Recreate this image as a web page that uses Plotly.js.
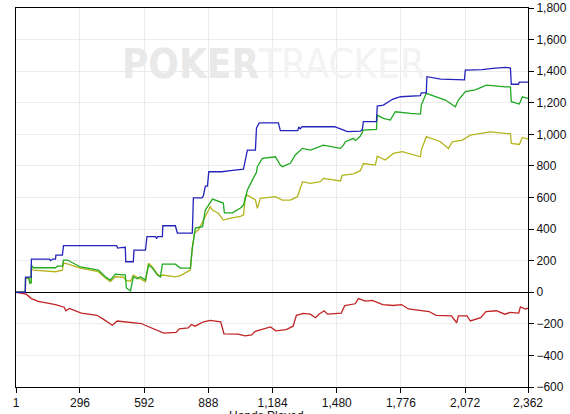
<!DOCTYPE html>
<html>
<head>
<meta charset="utf-8">
<script src="https://cdn.plot.ly/plotly-3.0.1.min.js"></script>
<style>
  html, body { margin: 0; padding: 0; background: #ffffff; }
  #chart { width: 570px; height: 414px; }
</style>
</head>
<body>
<div id="chart"></div>
<script>
// Hands played (x) and cumulative amounts (y)
const blueHands = [1,44,45,71,72,155,160,170,183,185,215,220,465,470,485,496,505,507,542,545,598,605,644,650,653,676,678,736,745,814,819,859,865,874,884,890,950,990,1036,1050,1068,1105,1110,1123,1211,1220,1300,1305,1312,1320,1368,1470,1497,1520,1529,1590,1598,1603,1663,1667,1695,1737,1774,1866,1870,1893,1896,1960,2060,2069,2073,2150,2200,2258,2281,2285,2318,2322,2362];
const blueValues = [0,0,96,96,210,210,200,210,210,235,235,295,295,280,282,285,285,193,193,267,267,352,352,340,352,352,421,421,375,375,597,597,610,672,672,763,763,770,775,780,900,900,1040,1072,1072,1023,1023,1045,1035,1048,1048,1048,1035,1025,1017,1020,1030,1080,1080,1179,1185,1222,1238,1245,1263,1263,1365,1350,1345,1345,1407,1410,1418,1424,1420,1317,1317,1330,1330];

const greenHands = [1,44,45,60,65,71,72,81,183,192,215,220,238,298,381,413,436,459,496,505,510,529,542,561,575,598,612,630,653,667,676,736,759,805,814,824,828,842,861,874,907,957,962,999,1036,1050,1068,1091,1110,1114,1137,1197,1220,1229,1266,1289,1322,1359,1418,1497,1511,1520,1557,1566,1589,1603,1663,1667,1695,1727,1750,1820,1866,1870,1893,1981,2027,2041,2073,2119,2170,2258,2281,2285,2322,2336,2362];
const greenValues = [0,0,90,90,58,60,172,155,155,165,165,204,204,160,140,98,77,115,110,110,27,8,98,85,98,77,172,153,109,98,178,178,153,153,279,383,406,410,415,520,590,565,503,503,533,552,647,710,760,795,848,858,805,795,817,869,911,900,932,911,932,953,975,960,989,1027,1031,1122,1101,1090,1143,1133,1128,1185,1260,1217,1175,1217,1270,1281,1312,1301,1300,1207,1192,1238,1228];

const yellowHands = [1,44,45,60,65,71,72,81,183,215,220,238,298,381,413,436,459,496,510,529,542,561,598,612,630,653,667,676,736,759,805,814,824,842,874,897,907,934,957,990,1036,1050,1059,1068,1105,1114,1128,1197,1229,1266,1299,1322,1359,1405,1418,1497,1505,1557,1589,1603,1658,1667,1704,1741,1783,1866,1870,1893,1958,1995,2013,2059,2096,2188,2258,2281,2285,2322,2336,2362];
const yellowValues = [0,0,90,90,58,60,150,140,130,140,185,180,153,130,90,67,98,95,75,70,109,95,67,183,160,115,98,109,98,105,140,280,375,394,478,541,520,500,457,470,480,489,605,615,584,531,595,605,584,584,605,700,689,700,721,705,740,750,770,815,805,862,837,879,890,858,900,985,953,911,953,964,995,1016,1006,1005,943,936,980,970];

const redHands = [1,48,72,104,183,223,231,247,302,374,405,445,468,533,580,596,644,683,739,754,795,810,827,866,897,945,960,1025,1057,1088,1104,1175,1199,1247,1279,1294,1326,1358,1382,1398,1422,1437,1501,1517,1565,1580,1612,1644,1692,1740,1779,1810,1906,1938,2009,2033,2041,2081,2096,2144,2168,2216,2255,2279,2319,2327,2350,2362];
const redValues = [0,-12,-40,-58,-78,-95,-117,-102,-132,-146,-172,-209,-182,-189,-198,-209,-237,-259,-254,-232,-226,-204,-215,-187,-178,-187,-263,-265,-276,-270,-248,-220,-244,-237,-215,-146,-134,-139,-161,-139,-117,-139,-132,-84,-73,-40,-56,-52,-78,-84,-78,-106,-122,-146,-150,-193,-150,-150,-182,-161,-122,-117,-139,-128,-132,-93,-106,-100];

const xTickValues = [1,296,592,888,1184,1480,1776,2072,2362];
const yTickValues = [-600,-400,-200,0,200,400,600,800,1000,1200,1400,1600,1800];
const xTitle = "Hands Played";
const watermarkBold = "POKER";
const watermarkLight = "TRACKER";

function series(x, y, color) {
  return { x: x, y: y, type: "scatter", mode: "lines",
           line: { color: color, width: 1.3 }, hoverinfo: "skip", showlegend: false };
}

const traces = [
  series(redHands, redValues, "#c02424"),
  series(yellowHands, yellowValues, "#b4b41c"),
  series(greenHands, greenValues, "#20a820"),
  series(blueHands, blueValues, "#2424bc")
];

const tickFont = { family: "Liberation Sans, Arial, sans-serif", size: 12, color: "#111111" };

const layout = {
  width: 570, height: 414,
  margin: { l: 16, r: 42, t: 8, b: 27, pad: 0 },
  paper_bgcolor: "#ffffff", plot_bgcolor: "#ffffff",
  showlegend: false,
  xaxis: {
    range: [1, 2362], tickmode: "array", tickvals: xTickValues, tickformat: ",d",
    showgrid: true, gridcolor: "#ebebeb", gridwidth: 1,
    showline: true, linecolor: "#000000", linewidth: 1, mirror: true,
    ticks: "outside", ticklen: 5, tickcolor: "#000000",
    zeroline: false, tickfont: tickFont
  },
  yaxis: {
    range: [-600, 1800], tickmode: "array", tickvals: yTickValues, tickformat: ",d",
    side: "right",
    showgrid: true, gridcolor: "#ebebeb", gridwidth: 1,
    showline: true, linecolor: "#000000", linewidth: 1, mirror: true,
    ticks: "outside", ticklen: 5, tickcolor: "#000000",
    zeroline: true, zerolinecolor: "#000000", zerolinewidth: 1,
    tickfont: tickFont
  },
  annotations: [{
    xref: "paper", yref: "paper", x: 0.503, y: 0.853,
    xanchor: "center", yanchor: "middle", showarrow: false,
    text: "<b><span style='color:#e9e9e9'>" + watermarkBold + "</span></b><span style='color:#f3f3f3'>" + watermarkLight + "</span>",
    font: { family: "Liberation Sans Narrow, DejaVu Sans Condensed, sans-serif", size: 40, color: "#eeeeee" }
  }, {
    xref: "paper", yref: "paper", x: 0.49, y: -0.053,
    xanchor: "center", yanchor: "top", showarrow: false,
    text: xTitle, font: tickFont
  }]
};

Plotly.newPlot("chart", traces, layout, { displayModeBar: false, staticPlot: true });
</script>
</body>
</html>
